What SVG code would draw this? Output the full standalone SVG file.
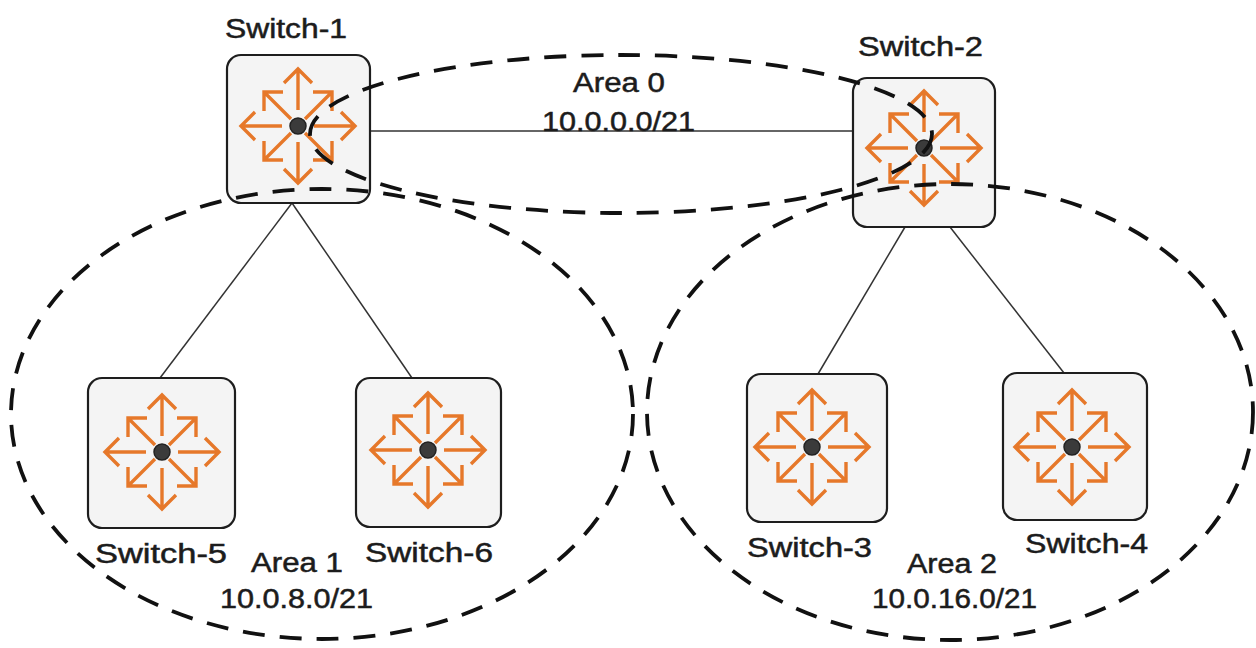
<svg xmlns="http://www.w3.org/2000/svg" xmlns:xlink="http://www.w3.org/1999/xlink" width="1256" height="648" viewBox="0 0 1256 648">
<style>
.box{fill:#f4f4f4;stroke:#1e1e1e;stroke-width:2.2}
.ic{fill:none;stroke:#E6782A;stroke-width:3.4;stroke-linejoin:miter}
.link{stroke:#333;stroke-width:1.5;fill:none}
.area{fill:none;stroke:#111;stroke-width:3.8;stroke-dasharray:22 15}
.lbl{font-family:"Liberation Sans",Arial,sans-serif;font-size:27px;fill:#1c1c1c;stroke:#1c1c1c;stroke-width:0.5}
</style>
<defs>
<g id="icon">
<g class="ic">
<path d="M16,0H57M43,-14L57,0L43,14"/>
<path d="M-16,0H-57M-43,-14L-57,0L-43,14"/>
<path d="M0,16V57M-14,43L0,57L14,43"/>
<path d="M0,-16V-57M-14,-43L0,-57L14,-43"/>
<path d="M7,7L34,34M15,34H34V15"/>
<path d="M-7,7L-34,34M-15,34H-34V15"/>
<path d="M7,-7L34,-34M15,-34H34V-15"/>
<path d="M-7,-7L-34,-34M-15,-34H-34V-15"/>
</g>
<circle r="8" fill="#3b3b3b" stroke="#222" stroke-width="1.5"/>
</g>
</defs>
<rect width="1256" height="648" fill="#fff"/>
<g id="connectors">
<path class="link" d="M370,131H853"/>
<path class="link" d="M292,203L160,378"/>
<path class="link" d="M292,203L412,378"/>
<path class="link" d="M905,227L818,374"/>
<path class="link" d="M950,227L1064,373"/>
</g>
<g id="switch-1">
<rect class="box" x="227" y="55" width="143" height="148" rx="14"/>
<use xlink:href="#icon" href="#icon" x="298" y="126"/>
<text class="lbl" x="225" y="38" textLength="122" lengthAdjust="spacingAndGlyphs">Switch-1</text>
</g>
<g id="switch-2">
<rect class="box" x="853" y="78" width="142" height="149" rx="14"/>
<use xlink:href="#icon" href="#icon" x="924" y="148"/>
<text class="lbl" x="858" y="56" textLength="125" lengthAdjust="spacingAndGlyphs">Switch-2</text>
</g>
<g id="switch-5">
<rect class="box" x="88" y="378" width="147" height="150" rx="14"/>
<use xlink:href="#icon" href="#icon" x="162" y="452"/>
<text class="lbl" x="95" y="563" textLength="132" lengthAdjust="spacingAndGlyphs">Switch-5</text>
</g>
<g id="switch-6">
<rect class="box" x="356" y="378" width="145" height="149" rx="14"/>
<use xlink:href="#icon" href="#icon" x="428" y="450"/>
<text class="lbl" x="365" y="562" textLength="128" lengthAdjust="spacingAndGlyphs">Switch-6</text>
</g>
<g id="switch-3">
<rect class="box" x="747" y="374" width="140" height="148" rx="14"/>
<use xlink:href="#icon" href="#icon" x="812" y="447"/>
<text class="lbl" x="747" y="557" textLength="125" lengthAdjust="spacingAndGlyphs">Switch-3</text>
</g>
<g id="switch-4">
<rect class="box" x="1003" y="373" width="144" height="147" rx="14"/>
<use xlink:href="#icon" href="#icon" x="1072" y="447"/>
<text class="lbl" x="1025" y="553" textLength="123" lengthAdjust="spacingAndGlyphs">Switch-4</text>
</g>
<g id="area-0">
<ellipse class="area" cx="621" cy="134" rx="311" ry="79"/>
<text class="lbl" x="573" y="92" textLength="92" lengthAdjust="spacingAndGlyphs">Area 0</text>
<text class="lbl" x="542" y="131" textLength="153" lengthAdjust="spacingAndGlyphs">10.0.0.0/21</text>
</g>
<g id="area-1">
<ellipse class="area" cx="322" cy="414" rx="311" ry="225"/>
<text class="lbl" x="251" y="572" textLength="92" lengthAdjust="spacingAndGlyphs">Area 1</text>
<text class="lbl" x="220" y="608" textLength="153" lengthAdjust="spacingAndGlyphs">10.0.8.0/21</text>
</g>
<g id="area-2">
<ellipse class="area" cx="950" cy="412" rx="303" ry="228"/>
<text class="lbl" x="907" y="573" textLength="90" lengthAdjust="spacingAndGlyphs">Area 2</text>
<text class="lbl" x="872" y="608" textLength="165" lengthAdjust="spacingAndGlyphs">10.0.16.0/21</text>
</g>
</svg>
